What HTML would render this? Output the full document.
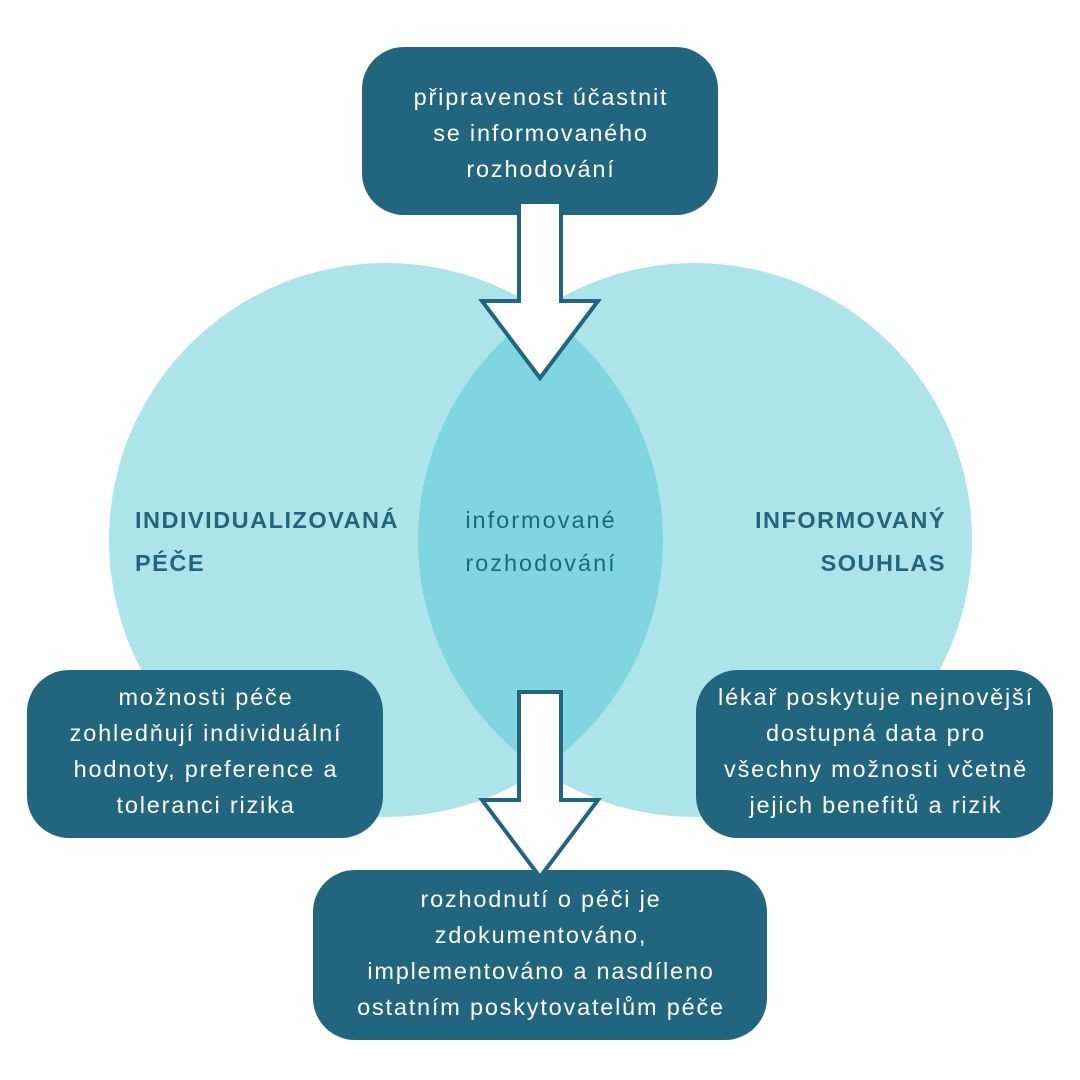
<!DOCTYPE html>
<html><head><meta charset="utf-8"><style>
html,body{margin:0;padding:0;background:#fff;}
svg{display:block;}
text{font-family:"Liberation Sans",sans-serif;font-size:23.5px;letter-spacing:1.8px;}
</style></head><body>
<svg width="1080" height="1080" viewBox="0 0 1080 1080">
<defs>
<clipPath id="cl"><circle cx="386" cy="540" r="277"/></clipPath>
</defs>
<circle cx="386" cy="540" r="277" fill="#ade4e9"/>
<circle cx="695" cy="540" r="277" fill="#ade4e9"/>
<circle cx="695" cy="540" r="277" fill="#80d6e0" clip-path="url(#cl)"/>

<rect x="362" y="47" width="356" height="168" rx="42" fill="#21667e"/>
<rect x="27" y="670" width="356" height="168" rx="42" fill="#21667e"/>
<rect x="696" y="670" width="357" height="168" rx="42" fill="#21667e"/>
<rect x="313" y="870" width="454" height="170" rx="42" fill="#21667e"/>

<polygon points="519,202 561,202 561,301 598,301 540,378 482,301 519,301" fill="#fff" stroke="#21667e" stroke-width="4" stroke-linejoin="miter"/>
<polygon points="519,692 561,692 561,800 598,800 540,877 482,800 519,800" fill="#fff" stroke="#21667e" stroke-width="4" stroke-linejoin="miter"/>

<g fill="#fff" text-anchor="middle">
<text x="541" y="105">připravenost účastnit</text>
<text x="541" y="141">se informovaného</text>
<text x="541" y="177">rozhodování</text>
<text x="206" y="705">možnosti péče</text>
<text x="206" y="741">zohledňují individuální</text>
<text x="206" y="777">hodnoty, preference a</text>
<text x="206" y="813">toleranci rizika</text>
<text x="876" y="705">lékař poskytuje nejnovější</text>
<text x="876" y="741">dostupná data pro</text>
<text x="876" y="777">všechny možnosti včetně</text>
<text x="876" y="813">jejich benefitů a rizik</text>
<text x="541" y="907">rozhodnutí o péči je</text>
<text x="541" y="943">zdokumentováno,</text>
<text x="541" y="979">implementováno a nasdíleno</text>
<text x="541" y="1015">ostatním poskytovatelům péče</text>
</g>
<g fill="#21667e">
<text x="541" y="528" text-anchor="middle" style="letter-spacing:2px">informované</text>
<text x="541" y="571" text-anchor="middle" style="letter-spacing:2px">rozhodování</text>
<text x="135" y="528" font-weight="bold" style="letter-spacing:1.5px">INDIVIDUALIZOVANÁ</text>
<text x="135" y="571" font-weight="bold" style="letter-spacing:1.5px">PÉČE</text>
<text x="946" y="528" font-weight="bold" text-anchor="end" style="letter-spacing:1.5px">INFORMOVANÝ</text>
<text x="946" y="571" font-weight="bold" text-anchor="end" style="letter-spacing:1.5px">SOUHLAS</text>
</g>
</svg>
</body></html>
